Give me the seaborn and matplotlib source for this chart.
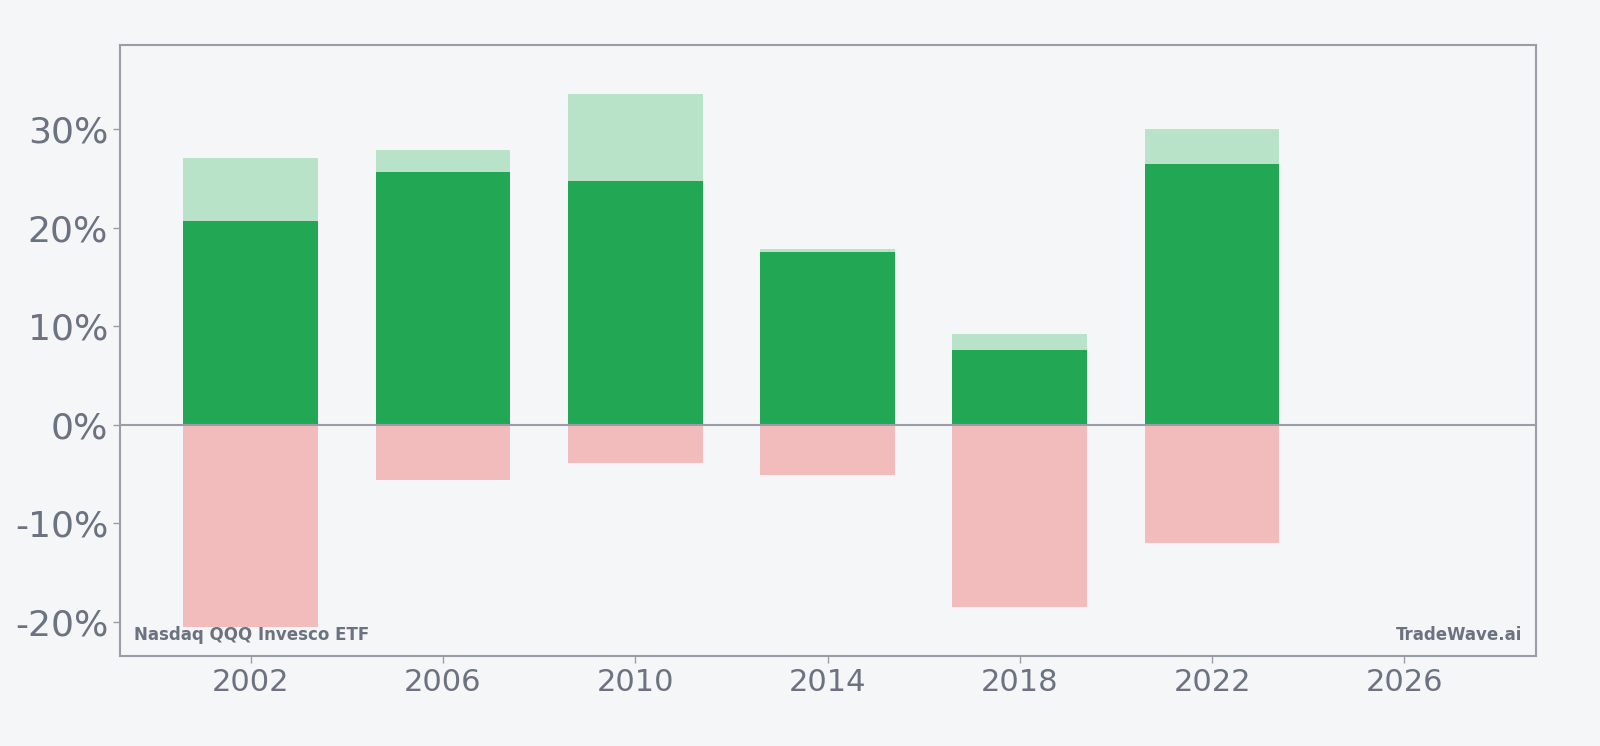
import numpy as np
import pandas as pd
import seaborn as sns
import matplotlib.pyplot as plt
from matplotlib.ticker import FuncFormatter

# values (percent)
years = [2002, 2006, 2010, 2014, 2018, 2022]
best = [27.1, 27.9, 33.6, 17.9, 9.2, 30.0]
ret = [20.7, 25.7, 24.8, 17.6, 7.6, 26.5]
worst = [-20.5, -5.6, -3.9, -5.1, -18.5, -12.0]

bg = "#f4f6f8"
txt = "#6b7280"
edge = "#9a9ca6"

sns.set_style("white")
plt.rcParams["font.family"] = ["DejaVu Sans"]

df = pd.DataFrame({"year": years, "best": best, "ret": ret, "worst": worst})

fig = plt.figure(figsize=(16, 7.46), dpi=100, facecolor=bg)
ax = fig.add_axes([0.075, 0.1206, 0.885, 0.8194])
ax.set_facecolor(bg)

sns.barplot(data=df, x="year", y="best", native_scale=True, width=0.7,
            color="#b8e3c8", saturation=1, linewidth=0, ax=ax)
sns.barplot(data=df, x="year", y="ret", native_scale=True, width=0.7,
            color="#22a854", saturation=1, linewidth=0, ax=ax)
sns.barplot(data=df, x="year", y="worst", native_scale=True, width=0.7,
            color="#f3bcbc", saturation=1, linewidth=0, ax=ax)

ax.axhline(0, color=edge, lw=1.5, zorder=5)

ax.set_xlim(1999.28, 2028.74)
ax.set_ylim(-23.46, 38.6)
ax.set_xticks([2002, 2006, 2010, 2014, 2018, 2022, 2026])
ax.set_xticklabels(["2002", "2006", "2010", "2014", "2018", "2022", "2026"])
ax.set_yticks([-20, -10, 0, 10, 20, 30])
ax.yaxis.set_major_formatter(FuncFormatter(lambda v, p: f"{v:.0f}%"))
ax.set_xlabel("")
ax.set_ylabel("")

ax.tick_params(axis="y", labelsize=26, colors=edge, labelcolor=txt, length=5, width=1, left=True)
ax.tick_params(axis="x", labelsize=22, colors=edge, labelcolor=txt, length=5, width=1, bottom=True)
for s in ax.spines.values():
    s.set_color(edge)
    s.set_linewidth(1.5)

ax.text(0.01, 0.02, "Nasdaq QQQ Invesco ETF", transform=ax.transAxes,
        fontsize=12, fontweight="bold", color=txt, ha="left", va="bottom")
ax.text(0.99, 0.02, "TradeWave.ai", transform=ax.transAxes,
        fontsize=12, fontweight="bold", color=txt, ha="right", va="bottom")

fig.savefig("out.png", dpi=100, facecolor=bg)
